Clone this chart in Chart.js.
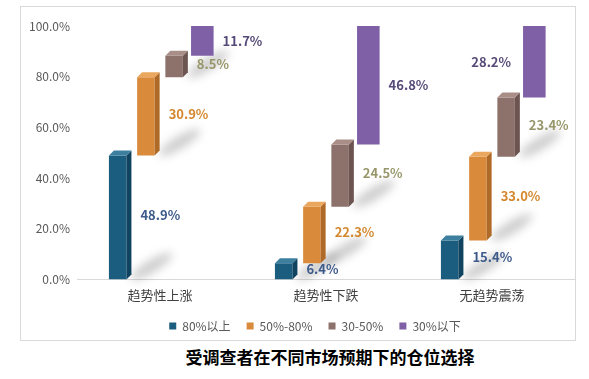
<!DOCTYPE html>
<html>
<head>
<meta charset="utf-8">
<script src="https://cdn.jsdelivr.net/npm/chart.js@4.4.1/dist/chart.umd.min.js"></script>
<style>
    body { margin: 0; background: #fff; width: 589px; height: 379px; position: relative; overflow: hidden; }
    .box { position: absolute; left: 20px; top: 6px; width: 556px; height: 335px; border: 1px solid #d9d9d9; box-sizing: border-box; }
    .title { position: absolute; left: 130px; top: 344px; width: 400px; text-align: center; font: bold 17px "Noto Sans CJK SC", sans-serif; color: #000; }
</style>
</head>
<body>
<div class="box"><canvas id="chart"></canvas></div>
<div class="title">受调查者在不同市场预期下的仓位选择</div>
<script>
const categories = ['趋势性上涨', '趋势性下跌', '无趋势震荡'];
const seriesNames = ['80%以上', '50%-80%', '30-50%', '30%以下'];
const above80 = [48.9, 6.4, 15.4];
const from50to80 = [30.9, 22.3, 33.0];
const from30to50 = [8.5, 24.5, 23.4];
const below30 = [11.7, 46.8, 28.2];
const yTicks = [0, 20, 40, 60, 80, 100];

const barColors = ['#1a5d7e', '#d98a3a', '#8d716b', '#7f60a6'];
const sideColors = ['#0f4360', '#b06a27', '#6c5450', null];
const topColors = ['#3d7f9e', '#eaa75e', '#a98d87', null];
const labelColors = ['#3d5a8a', '#d4872d', '#97966a', '#564a78'];
const depth = 5;

// each bar floats on top of the previous ones
const seriesValues = [above80, from50to80, from30to50, below30];
const ranges = seriesValues.map(function (vals, s) {
    return vals.map(function (v, c) {
        let start = 0;
        for (let k = 0; k < s; k++) start += seriesValues[k][c];
        return [start, start + v];
    });
});

const fontFamily = '"Microsoft YaHei", "Noto Sans CJK SC", sans-serif';

// soft shadows behind the 3d bars
const shadowPlugin = {
    id: 'shadows',
    beforeDatasetsDraw(chart) {
        const ctx = chart.ctx;
        ctx.save();
        ctx.filter = 'blur(5px)';
        ctx.fillStyle = 'rgba(0,0,0,0.2)';
        chart.data.datasets.forEach(function (ds, i) {
            if (!sideColors[i]) return;
            chart.getDatasetMeta(i).data.forEach(function (bar) {
                if (bar.base - bar.y < 12) return;
                const xr = bar.x + bar.width / 2 + depth;
                ctx.beginPath();
                ctx.ellipse(xr + 20, bar.base - 13, 24, 6, -0.55, 0, Math.PI * 2);
                ctx.fill();
            });
        });
        ctx.restore();
    }
};

// side and top faces
const cubePlugin = {
    id: 'cube',
    afterDatasetsDraw(chart) {
        const ctx = chart.ctx;
        ctx.save();
        chart.data.datasets.forEach(function (ds, i) {
            if (!sideColors[i]) return;
            chart.getDatasetMeta(i).data.forEach(function (bar) {
                const l = bar.x - bar.width / 2, r = bar.x + bar.width / 2;
                ctx.fillStyle = sideColors[i];
                ctx.beginPath();
                ctx.moveTo(r, bar.y);
                ctx.lineTo(r + depth, bar.y - depth);
                ctx.lineTo(r + depth, bar.base - depth);
                ctx.lineTo(r, bar.base);
                ctx.closePath();
                ctx.fill();
                ctx.fillStyle = topColors[i];
                ctx.beginPath();
                ctx.moveTo(l, bar.y);
                ctx.lineTo(l + depth, bar.y - depth);
                ctx.lineTo(r + depth, bar.y - depth);
                ctx.lineTo(r, bar.y);
                ctx.closePath();
                ctx.fill();
            });
        });
        ctx.restore();
    }
};

// value labels next to each bar
const labelPlugin = {
    id: 'valueLabels',
    afterDraw(chart) {
        const ctx = chart.ctx;
        ctx.save();
        ctx.font = 'bold 13px ' + fontFamily;
        ctx.textBaseline = 'middle';
        chart.data.datasets.forEach(function (ds, i) {
            chart.getDatasetMeta(i).data.forEach(function (bar, j) {
                const text = seriesValues[i][j].toFixed(1) + '%';
                const w = ctx.measureText(text).width;
                const extra = sideColors[i] ? depth : 0;
                const midY = (bar.y + bar.base) / 2 - extra / 2;
                let x = bar.x + bar.width / 2 + extra + 9;
                ctx.fillStyle = labelColors[i];
                if (bar.base - bar.y < 12) {
                    ctx.strokeStyle = labelColors[i];
                    ctx.lineWidth = 1;
                    ctx.beginPath();
                    ctx.moveTo(x - 6, midY + 0.5);
                    ctx.lineTo(x - 1, midY + 0.5);
                    ctx.stroke();
                    x += 6;
                }
                if (x + w > chart.width - 4) {
                    x = bar.x - bar.width / 2 - 12 - w;
                }
                ctx.fillText(text, x, midY);
            });
        });
        ctx.restore();
    }
};

// nudge the legend a little left and up
const legendShift = {
    id: 'legendShift',
    afterLayout(chart) {
        chart.legend.left -= 11;
        chart.legend.right -= 11;
        chart.legend.top -= 7;
        chart.legend.bottom -= 7;
    }
};

const datasets = seriesNames.map(function (name, i) {
    return {
        label: name,
        data: ranges[i],
        backgroundColor: barColors[i],
        borderWidth: 0,
        borderSkipped: false,
        barPercentage: sideColors[i] ? 0.62 : 0.8,
        categoryPercentage: 0.68
    };
});

const config = {
    type: 'bar',
    data: {
        labels: categories,
        datasets: datasets
    },
    options: {
        responsive: true,
        maintainAspectRatio: false,
        animation: false,
        layout: {
            padding: { top: 19, right: 0, bottom: -9, left: 0 }
        },
        plugins: {
            legend: {
                position: 'bottom',
                fullSize: false,
                labels: {
                    boxWidth: 7,
                    boxHeight: 7,
                    padding: 16,
                    color: '#595959',
                    font: { size: 12, family: fontFamily }
                }
            },
            tooltip: { enabled: false }
        },
        scales: {
            x: {
                grid: { display: false, drawTicks: false },
                border: { color: '#d9d9d9' },
                ticks: {
                    color: '#404040',
                    padding: 8,
                    font: { size: 13, family: fontFamily }
                }
            },
            y: {
                min: 0,
                max: 100,
                afterFit: function (scale) { scale.width = 56; },
                afterBuildTicks: function (scale) {
                    scale.ticks = yTicks.map(function (v) { return { value: v }; });
                },
                grid: { display: false, drawTicks: false },
                border: { display: false },
                ticks: {
                    color: '#595959',
                    padding: 7,
                    font: { size: 12, family: fontFamily },
                    callback: function (v) { return v.toFixed(1) + '%'; }
                }
            }
        }
    },
    plugins: [shadowPlugin, cubePlugin, labelPlugin, legendShift]
};

let chart = new Chart(document.getElementById('chart'), config);
</script>
</body>
</html>
